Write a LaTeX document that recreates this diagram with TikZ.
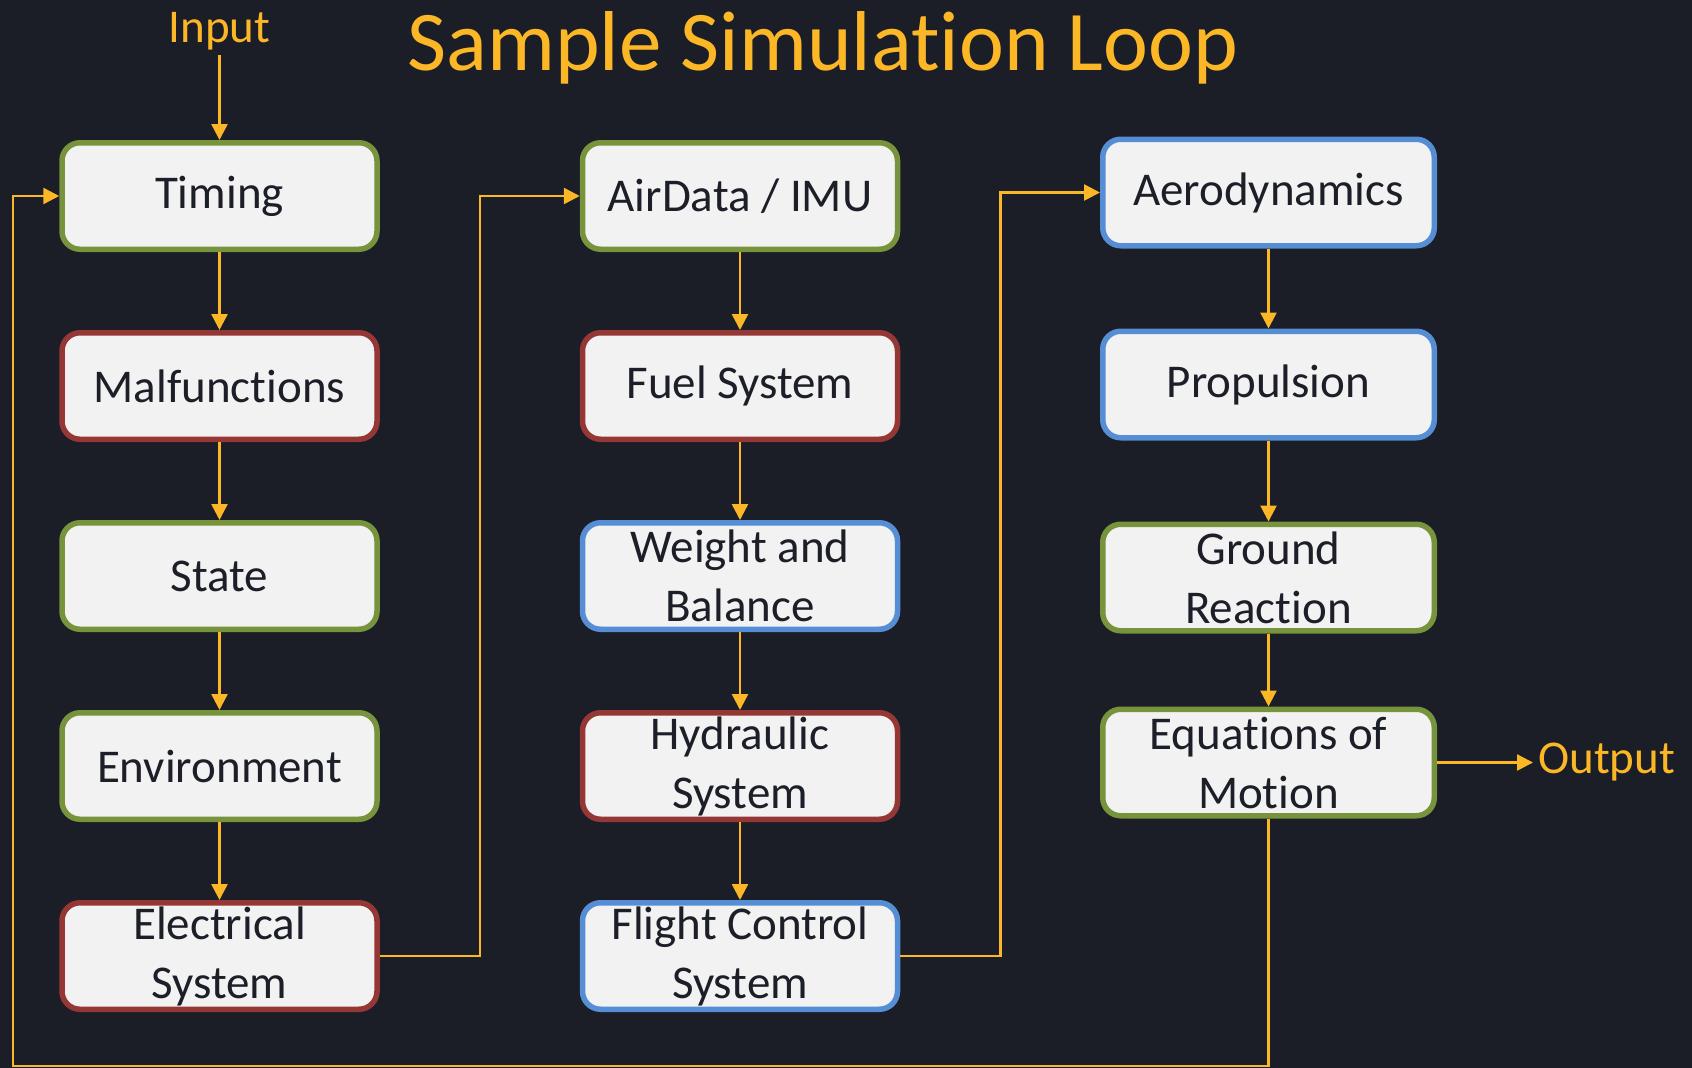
\documentclass[tikz,border=0pt]{standalone}
\usepackage{fontspec}
\setmainfont{Carlito}[Ligatures=NoCommon]
\usetikzlibrary{arrows.meta, positioning, calc}
\definecolor{NightBg}{HTML}{1B1D27}
\definecolor{GoldLine}{HTML}{FBB726}
\definecolor{BoxFill}{HTML}{F2F2F2}
\definecolor{InkDark}{HTML}{1C1E28}
\definecolor{RimGreen}{HTML}{77933C}
\definecolor{RimRed}{HTML}{953735}
\definecolor{RimBlue}{HTML}{558ED5}

\begin{document}
\begin{tikzpicture}[x=1pt, y=-1pt, node distance=78pt,
    sysbox/.style={draw, line width=5.5pt, fill=BoxFill, rounded corners=18pt, minimum width=315pt, minimum height=106.5pt, inner sep=0pt, text=InkDark, align=center, font=\fontsize{47}{59}\selectfont},
    greenrim/.style={sysbox, draw=RimGreen},
    redrim/.style={sysbox, draw=RimRed},
    bluerim/.style={sysbox, draw=RimBlue},
    tag/.style={text=GoldLine, inner sep=5pt, font=\fontsize{47}{59}\selectfont},
    flow/.style={draw=GoldLine, line width=2.5pt, -{Triangle[length=16pt, width=16pt]}}]
    \fill[NightBg] (0,0) rectangle (1692,1068);
    \useasboundingbox (0,0) rectangle (1692,1068);

    \node[text=GoldLine, anchor=base, font=\fontsize{85}{100}\selectfont] (title) at (823,70) {Sample Simulation Loop};
    \node[tag, anchor=base] (input) at (219.5,42) {Input};

    % first column
    \node[greenrim] (timing) at (219.5,196) {Timing};
    \node[redrim, below=of timing] (malf) {Malfunctions};
    \node[greenrim, below=of malf] (state) {State};
    \node[greenrim, below=of state] (env) {Environment};
    \node[redrim, below=of env] (elec) {Electrical\\System};

    % second column
    \node[greenrim] (airdata) at (740,196) {AirData / IMU};
    \node[redrim, below=of airdata] (fuel) {Fuel System};
    \node[bluerim, below=of fuel] (wab) {Weight and\\Balance};
    \node[redrim, below=of wab] (hyd) {Hydraulic\\System};
    \node[bluerim, below=of hyd] (fcs) {Flight Control\\System};

    % third column
    \node[bluerim, minimum width=331.5pt] (aero) at (1268.5,192.5) {Aerodynamics};
    \node[bluerim, minimum width=331.5pt, below=80pt of aero] (prop) {Propulsion};
    \node[greenrim, minimum width=331.5pt, below=81pt of prop] (ground) {Ground\\Reaction};
    \node[greenrim, minimum width=331.5pt, below=73pt of ground] (eom) {Equations of\\Motion};
    \node[tag, right=96pt of eom] (output) {Output};

    \coordinate (loopcorner) at (13,1066);

    % Arrows
    \draw[flow] (input) -- (timing);
    \draw[flow] (timing) -- (malf);
    \draw[flow] (malf) -- (state);
    \draw[flow] (state) -- (env);
    \draw[flow] (env) -- (elec);
    \draw[flow] (elec.east) -- ++(100pt,0) |- (airdata);
    \draw[flow] (airdata) -- (fuel);
    \draw[flow] (fuel) -- (wab);
    \draw[flow] (wab) -- (hyd);
    \draw[flow] (hyd) -- (fcs);
    \draw[flow] (fcs.east) -- ++(100pt,0) |- (aero);
    \draw[flow] (aero) -- (prop);
    \draw[flow] (prop) -- (ground);
    \draw[flow] (ground) -- (eom);
    \draw[flow] (eom) -- (output);
    \draw[flow] (eom) |- (loopcorner) |- (timing);
\end{tikzpicture}
\end{document}
